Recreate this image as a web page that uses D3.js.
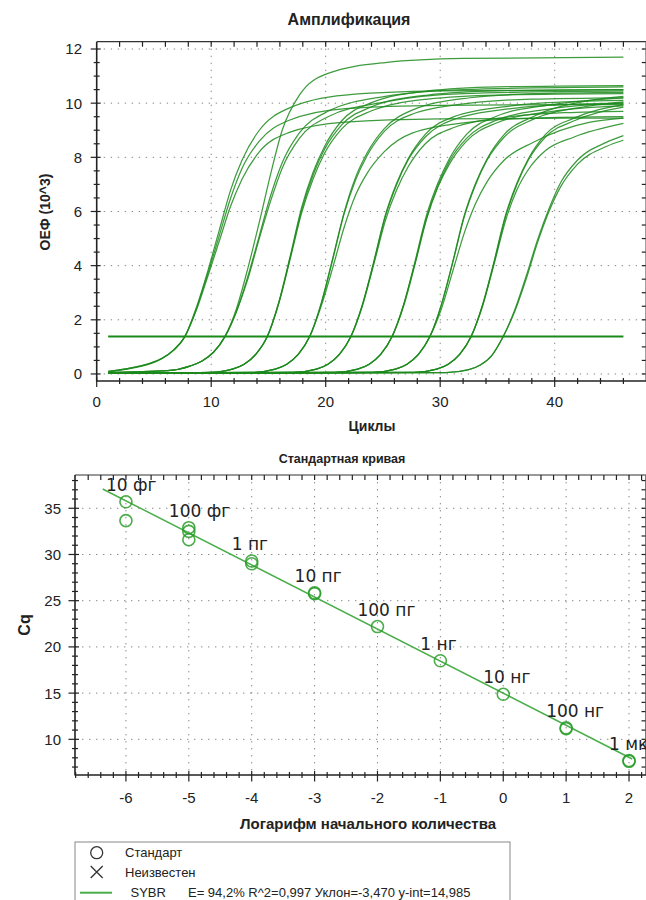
<!DOCTYPE html>
<html>
<head>
<meta charset="utf-8">
<script src="https://cdn.jsdelivr.net/npm/d3@7"></script>
<style>
  body { margin: 0; background: #fff; }
  text { font-family: "Liberation Sans", Arial, sans-serif; fill: #222; }
</style>
</head>
<body>
<svg id="chart" width="646" height="900"></svg>
<script>
// Amplification curves, one knot list per dilution group (cycle -> RFU x10^3)
const cyclesA = [1, 2.7, 4.7, 5.7, 6.7, 7.7, 8.7, 9.7, 10.7, 11.7, 12.7, 14.2, 16.7, 21.7, 30, 46];
const curvesA = [
  [0.1, 0.2, 0.4, 0.58, 0.88, 1.38, 2.45, 3.8, 5.3, 6.8, 7.9, 9.0, 9.8, 10.3, 10.45, 10.5],
  [0.1, 0.2, 0.4, 0.58, 0.88, 1.38, 2.4, 3.7, 5.1, 6.5, 7.6, 8.6, 9.35, 9.8, 9.92, 9.95],
  [0.08, 0.18, 0.38, 0.56, 0.86, 1.38, 2.35, 3.6, 4.9, 6.2, 7.2, 8.2, 8.9, 9.3, 9.42, 9.45]
];
const cyclesB = [1, 6.2, 8.2, 9.2, 10.2, 11.2, 12.2, 13.2, 14.2, 15.2, 16.2, 17.7, 20.2, 25.2, 32, 46];
const curvesB = [
  [0.05, 0.12, 0.3, 0.48, 0.8, 1.38, 2.4, 3.9, 5.6, 7.4, 9.0, 10.3, 11.1, 11.5, 11.65, 11.7],
  [0.05, 0.12, 0.3, 0.48, 0.8, 1.38, 2.3, 3.6, 5.1, 6.6, 7.8, 8.9, 9.7, 10.25, 10.5, 10.6],
  [0.05, 0.12, 0.3, 0.48, 0.8, 1.38, 2.3, 3.5, 5.0, 6.4, 7.6, 8.7, 9.5, 10.05, 10.35, 10.45]
];
const cyclesC = [1, 9.9, 11.9, 12.9, 13.9, 14.9, 15.9, 16.9, 17.9, 18.9, 19.9, 21.4, 23.9, 28.9, 35, 46];
const curvesC = [
  [0.02, 0.06, 0.19, 0.37, 0.73, 1.38, 2.65, 4.35, 6.15, 7.45, 8.4, 9.35, 10.0, 10.45, 10.6, 10.65],
  [0.02, 0.06, 0.19, 0.37, 0.73, 1.38, 2.62, 4.3, 6.05, 7.35, 8.3, 9.2, 9.85, 10.3, 10.45, 10.5],
  [0.02, 0.06, 0.18, 0.36, 0.72, 1.38, 2.6, 4.25, 5.95, 7.2, 8.15, 9.05, 9.7, 10.15, 10.3, 10.35]
];
const cyclesD = [1, 13.6, 15.6, 16.6, 17.6, 18.6, 19.6, 20.6, 21.6, 22.6, 23.6, 25.1, 27.6, 32.6, 38, 46];
const curvesD = [
  [0.02, 0.06, 0.18, 0.36, 0.72, 1.38, 2.6, 4.25, 5.95, 7.25, 8.15, 9.05, 9.75, 10.2, 10.35, 10.4],
  [0.02, 0.06, 0.18, 0.36, 0.72, 1.38, 2.58, 4.2, 5.9, 7.15, 8.05, 8.95, 9.6, 10.0, 10.15, 10.2],
  [0.02, 0.06, 0.18, 0.36, 0.72, 1.38, 2.5, 3.9, 5.4, 6.6, 7.4, 8.2, 8.9, 9.3, 9.45, 9.5]
];
const cyclesE = [1, 17.2, 19.2, 20.2, 21.2, 22.2, 23.2, 24.2, 25.2, 26.2, 27.2, 28.7, 31.2, 36.2, 41, 46];
const curvesE = [
  [0.02, 0.06, 0.18, 0.36, 0.72, 1.38, 2.55, 4.15, 5.85, 7.05, 7.95, 8.85, 9.5, 9.9, 10.05, 10.1],
  [0.02, 0.06, 0.18, 0.36, 0.72, 1.38, 2.55, 4.12, 5.8, 7.0, 7.9, 8.75, 9.4, 9.8, 9.95, 10.0],
  [0.02, 0.06, 0.18, 0.36, 0.72, 1.38, 2.5, 4.05, 5.65, 6.8, 7.65, 8.5, 9.1, 9.5, 9.65, 9.7]
];
const cyclesF = [1, 20.8, 22.8, 23.8, 24.8, 25.8, 26.8, 27.8, 28.8, 29.8, 30.8, 32.3, 34.8, 39.8, 46];
const curvesF = [
  [0.02, 0.06, 0.18, 0.36, 0.72, 1.38, 2.55, 4.15, 5.85, 7.05, 7.95, 8.85, 9.5, 9.95, 10.2],
  [0.02, 0.06, 0.18, 0.36, 0.72, 1.38, 2.55, 4.1, 5.75, 6.95, 7.85, 8.7, 9.35, 9.8, 10.0],
  [0.02, 0.06, 0.18, 0.36, 0.72, 1.38, 2.5, 4.05, 5.7, 6.9, 7.75, 8.6, 9.25, 9.7, 9.9]
];
const cyclesG = [1, 24.1, 26.1, 27.1, 28.1, 29.1, 30.1, 31.1, 32.1, 33.1, 34.1, 35.6, 38.1, 43.1, 46];
const curvesG = [
  [0.02, 0.06, 0.18, 0.36, 0.72, 1.38, 2.55, 4.15, 5.85, 7.05, 7.95, 8.85, 9.5, 10.1, 10.25],
  [0.02, 0.06, 0.18, 0.36, 0.72, 1.38, 2.55, 4.12, 5.8, 7.0, 7.9, 8.75, 9.4, 9.9, 10.05],
  [0.02, 0.06, 0.18, 0.36, 0.72, 1.38, 2.4, 3.8, 5.2, 6.3, 7.1, 7.9, 8.55, 9.3, 9.45]
];
const cyclesH = [1, 27.7, 29.7, 30.7, 31.7, 32.7, 33.7, 34.7, 35.7, 36.7, 37.7, 39.2, 41.7, 46];
const curvesH = [
  [0.02, 0.06, 0.18, 0.36, 0.72, 1.38, 2.55, 4.15, 5.85, 7.05, 7.95, 8.85, 9.45, 9.95],
  [0.02, 0.06, 0.18, 0.36, 0.72, 1.38, 2.55, 4.1, 5.8, 7.0, 7.9, 8.75, 9.35, 9.85],
  [0.02, 0.06, 0.18, 0.36, 0.72, 1.38, 2.5, 4.05, 5.65, 6.8, 7.55, 8.25, 8.75, 9.25]
];
const cyclesI = [1, 30.5, 32.5, 33.5, 34.5, 35.5, 36.5, 37.5, 38.5, 39.5, 40.5, 42, 44.5, 46];
const curvesI = [
  [0.02, 0.05, 0.16, 0.33, 0.68, 1.38, 2.35, 3.6, 4.95, 6.1, 7.05, 7.9, 8.55, 8.8],
  [0.02, 0.05, 0.16, 0.33, 0.68, 1.38, 2.3, 3.5, 4.85, 6.0, 6.9, 7.75, 8.4, 8.63]
];
const threshold = 1.38;
const thresholdRange = [1, 46];

// Standard curve
const stdLog = [-6, -6, -5, -5, -5, -4, -4, -3, -3, -2, -1, 0, 1, 1, 2, 2];
const stdCq = [35.7, 33.66, 32.9, 32.5, 31.6, 29.3, 29.0, 25.85, 25.75, 22.2, 18.5, 14.87, 11.25, 11.15, 7.7, 7.62];
const labelLog = [-6, -5, -4, -3, -2, -1, 0, 1, 2];
const labelCq = [35.7, 32.9, 29.3, 25.85, 22.2, 18.5, 14.87, 11.25, 7.7];
const labelText = ['10 фг', '100 фг', '1 пг', '10 пг', '100 пг', '1 нг', '10 нг', '100 нг', '1 мкг'];
const fitSlope = -3.470;
const fitIntercept = 14.985;
const fitRange = [-6.37, 2.05];

const ampXTicks = [0, 10, 20, 30, 40];
const ampYTicks = [0, 2, 4, 6, 8, 10, 12];
const stdXTicks = [-6, -5, -4, -3, -2, -1, 0, 1, 2];
const stdYTicks = [10, 15, 20, 25, 30, 35];

const legendItems = ['Стандарт', 'Неизвестен'];
const legendFit = 'E= 94,2% R^2=0,997 Уклон=-3,470 y-int=14,985';

const svg = d3.select('#chart');
const green = '#1c8a1c';

function range(a, b, step, skip) {
  const out = [];
  for (let v = a; v <= b + 1e-9; v += step) {
    const r = Math.round(v * 1000) / 1000;
    if (!skip || Math.abs(r / skip - Math.round(r / skip)) > 1e-6) out.push(r);
  }
  return out;
}

// cross ticks: vertical axis at x0 or horizontal axis at y0
function vTicks(g, scale, vals, x0, left, right) {
  g.selectAll(null).data(vals).enter().append('line')
    .attr('x1', x0 - left).attr('x2', x0 + right)
    .attr('y1', d => scale(d)).attr('y2', d => scale(d))
    .attr('stroke', '#222').attr('stroke-width', 1.2);
}
function hTicks(g, scale, vals, y0, up, down) {
  g.selectAll(null).data(vals).enter().append('line')
    .attr('y1', y0 - up).attr('y2', y0 + down)
    .attr('x1', d => scale(d)).attr('x2', d => scale(d))
    .attr('stroke', '#222').attr('stroke-width', 1.2);
}

function frame(g, x, y, xMaj, xMin, yMaj, yMin, majLen) {
  const [x0, x1] = x.range();
  const [y0, y1] = y.range(); // y0 bottom, y1 top
  // dotted grid
  g.selectAll(null).data(xMaj.filter(v => x(v) > x0 + 2)).enter().append('line')
    .attr('x1', d => x(d)).attr('x2', d => x(d)).attr('y1', y1).attr('y2', y0)
    .attr('stroke', '#888').attr('stroke-width', 1).attr('stroke-dasharray', '1.4 5.6');
  g.selectAll(null).data(yMaj).enter().append('line')
    .attr('y1', d => y(d)).attr('y2', d => y(d)).attr('x1', x0).attr('x2', x1)
    .attr('stroke', '#888').attr('stroke-width', 1).attr('stroke-dasharray', '1.4 5.6');
  // box
  g.append('line').attr('x1', x0).attr('x2', x1).attr('y1', y1).attr('y2', y1).attr('stroke', '#333').attr('stroke-width', 1.2);
  g.append('line').attr('x1', x1 - 0.5).attr('x2', x1 - 0.5).attr('y1', y1).attr('y2', y0).attr('stroke', '#777').attr('stroke-width', 1);
  g.append('line').attr('x1', x0).attr('x2', x0).attr('y1', y1).attr('y2', y0 + 0.6).attr('stroke', '#222').attr('stroke-width', 1.6);
  g.append('line').attr('x1', x0).attr('x2', x1).attr('y1', y0).attr('y2', y0).attr('stroke', '#222').attr('stroke-width', 1.6);
  // ticks
  vTicks(g, y, yMaj, x0, majLen, 4);
  vTicks(g, y, yMin, x0, 3, 3);
  hTicks(g, x, xMaj, y0, 4, majLen);
  hTicks(g, x, xMin, y0, 3, 3);
  hTicks(g, x, xMaj.concat(xMin).filter(v => x(v) > x0 + 2), y1, 0, 5);
  vTicks(g, y, yMaj.concat(yMin), x1 - 0.5, 4, 0);
}

// ---------------- Amplification ----------------
const xA = d3.scaleLinear().domain([0, 48]).range([96.7, 646.3]);
const yA = d3.scaleLinear().domain([-0.26, 12.27]).range([381, 41.7]);
const gA = svg.append('g');

svg.append('defs').append('clipPath').attr('id', 'clipA')
  .append('rect').attr('x', xA.range()[0]).attr('y', yA.range()[1])
  .attr('width', xA.range()[1] - xA.range()[0]).attr('height', yA.range()[0] - yA.range()[1]);

frame(gA, xA, yA, ampXTicks, range(2, 46, 2, 10), ampYTicks, range(0.5, 12, 0.5, 2), 6);

const groups = [
  [cyclesA, curvesA], [cyclesB, curvesB], [cyclesC, curvesC], [cyclesD, curvesD], [cyclesE, curvesE],
  [cyclesF, curvesF], [cyclesG, curvesG], [cyclesH, curvesH], [cyclesI, curvesI]
];
const lineA = d3.line().x(d => xA(d[0])).y(d => yA(d[1])).curve(d3.curveMonotoneX);
const curveG = gA.append('g').attr('clip-path', 'url(#clipA)');
groups.forEach(([cyc, curves]) => {
  curves.forEach(vals => {
    curveG.append('path')
      .datum(cyc.map((c, i) => [c, vals[i]]))
      .attr('d', lineA)
      .attr('fill', 'none')
      .attr('stroke', green)
      .attr('stroke-opacity', 0.85)
      .attr('stroke-width', 1.25);
  });
});
curveG.append('line')
  .attr('x1', xA(thresholdRange[0])).attr('x2', xA(thresholdRange[1]))
  .attr('y1', yA(threshold)).attr('y2', yA(threshold))
  .attr('stroke', '#1a8a1a').attr('stroke-width', 2);

gA.selectAll(null).data(ampYTicks).enter().append('text')
  .attr('x', 82).attr('y', d => yA(d)).attr('dy', '0.36em')
  .attr('text-anchor', 'end').style('font-size', '15px').text(d => String(d));
gA.selectAll(null).data(ampXTicks).enter().append('text')
  .attr('x', d => xA(d)).attr('y', 407)
  .attr('text-anchor', 'middle').style('font-size', '15px').text(d => String(d));

svg.append('text').attr('x', 349).attr('y', 25).attr('text-anchor', 'middle')
  .style('font-size', '16px').style('font-weight', 'bold').text('Амплификация');
svg.append('text').attr('transform', 'translate(50,212) rotate(-90)').attr('text-anchor', 'middle')
  .style('font-size', '14px').style('font-weight', 'bold').text('ОЕФ (10^3)');
svg.append('text').attr('x', 372).attr('y', 431).attr('text-anchor', 'middle')
  .style('font-size', '14px').style('font-weight', 'bold').text('Циклы');

// ---------------- Standard curve ----------------
const xS = d3.scaleLinear().domain([-6.81, 2.27]).range([75, 646]);
const yS = d3.scaleLinear().domain([6.14, 38.6]).range([775, 475]);
const gS = svg.append('g');

frame(gS, xS, yS, stdXTicks, range(-6.8, 2.2, 0.2, 1), stdYTicks, range(7, 38, 1, 5), 6.5);

gS.append('line')
  .attr('x1', xS(fitRange[0])).attr('x2', xS(fitRange[1]))
  .attr('y1', yS(fitIntercept + fitSlope * fitRange[0]))
  .attr('y2', yS(fitIntercept + fitSlope * fitRange[1]))
  .attr('stroke', '#4aae4a').attr('stroke-width', 1.5);

gS.selectAll(null).data(stdLog).enter().append('circle')
  .attr('cx', d => xS(d)).attr('cy', (d, i) => yS(stdCq[i])).attr('r', 6)
  .attr('fill', 'none').attr('stroke', '#2a9e2a').attr('stroke-opacity', 0.85).attr('stroke-width', 1.6);

gS.selectAll(null).data(labelLog).enter().append('text')
  .attr('x', d => xS(d) - 20).attr('y', (d, i) => yS(labelCq[i]) - 11)
  .style('font-family', '"DejaVu Sans", sans-serif').style('font-size', '17px')
  .text((d, i) => labelText[i]);

gS.selectAll(null).data(stdYTicks).enter().append('text')
  .attr('x', 61).attr('y', d => yS(d)).attr('dy', '0.36em')
  .attr('text-anchor', 'end').style('font-size', '15px').text(d => String(d));
gS.selectAll(null).data(stdXTicks).enter().append('text')
  .attr('x', d => xS(d)).attr('y', 803)
  .attr('text-anchor', 'middle').style('font-size', '15px').text(d => String(d));

svg.append('text').attr('x', 342).attr('y', 463).attr('text-anchor', 'middle')
  .style('font-size', '12.5px').style('font-weight', 'bold').text('Стандартная кривая');
svg.append('text').attr('transform', 'translate(30,625) rotate(-90)').attr('text-anchor', 'middle')
  .style('font-size', '16px').style('font-weight', 'bold').text('Cq');
svg.append('text').attr('x', 368).attr('y', 829).attr('text-anchor', 'middle')
  .style('font-size', '15px').style('font-weight', 'bold').text('Логарифм начального количества');

// ---------------- Legend ----------------
const lg = svg.append('g');
lg.append('rect').attr('x', 75).attr('y', 842).attr('width', 435).attr('height', 80)
  .attr('fill', '#fff').attr('stroke', '#888').attr('stroke-width', 1);
lg.append('circle').attr('cx', 96.7).attr('cy', 852.7).attr('r', 6)
  .attr('fill', 'none').attr('stroke', '#333').attr('stroke-width', 1.3);
lg.append('path').attr('d', 'M90.7,866 L102.7,878 M102.7,866 L90.7,878')
  .attr('stroke', '#333').attr('stroke-width', 1.3);
lg.append('line').attr('x1', 80).attr('x2', 112).attr('y1', 892.7).attr('y2', 892.7)
  .attr('stroke', '#4aae4a').attr('stroke-width', 2);
lg.selectAll(null).data(legendItems).enter().append('text')
  .attr('x', 125).attr('y', (d, i) => 857 + i * 19.5)
  .style('font-size', '13px').text(d => d);
lg.append('text').attr('x', 130.5).attr('y', 897).style('font-size', '13px').text('SYBR');
lg.append('text').attr('x', 188).attr('y', 897).style('font-size', '13px').text(legendFit);
</script>
</body>
</html>
